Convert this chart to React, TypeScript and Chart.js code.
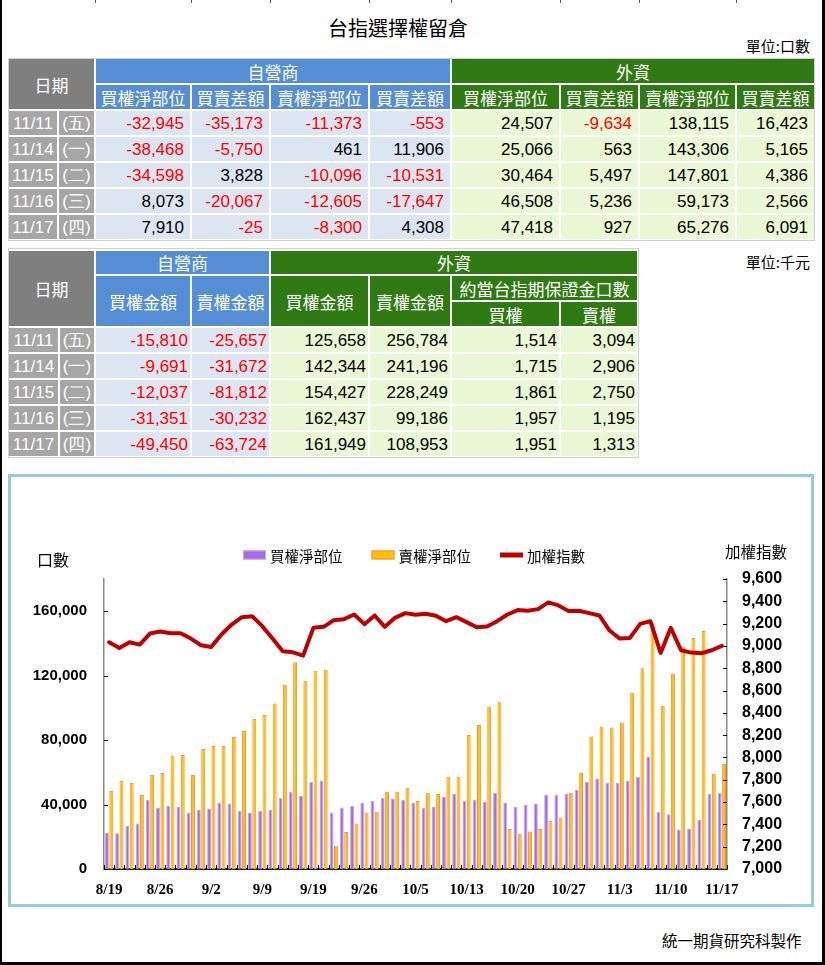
import React, { useEffect, useRef } from 'react';
import { Chart, registerables } from 'chart.js';
Chart.register(...registerables);

// ---------- chart data ----------
const chartDates = [
  '8/19', '8/22', '8/23', '8/24', '8/25', '8/26', '8/29', '8/30', '8/31', '9/1',
  '9/2', '9/5', '9/6', '9/7', '9/8', '9/9', '9/10', '9/12', '9/13', '9/14',
  '9/19', '9/20', '9/21', '9/22', '9/23', '9/26', '9/29', '9/30', '10/3', '10/4',
  '10/5', '10/6', '10/7', '10/11', '10/12', '10/13', '10/14', '10/17', '10/18', '10/19',
  '10/20', '10/21', '10/24', '10/25', '10/26', '10/27', '10/28', '10/31', '11/1', '11/2',
  '11/3', '11/4', '11/7', '11/8', '11/9', '11/10', '11/11', '11/14', '11/15', '11/16',
  '11/17',
];
const callNet = [
  22600, 22200, 26900, 28200, 42900, 38100, 39300, 38500, 35000, 36900,
  37500, 41200, 40600, 36200, 35000, 36200, 36900, 44300, 48000, 45500,
  54200, 54900, 35000, 38100, 39300, 41200, 42400, 44300, 43700, 43100,
  41200, 38100, 38700, 44900, 46800, 42400, 43100, 41800, 47400, 41200,
  38700, 40000, 40600, 46200, 46200, 46800, 49300, 54200, 56100, 53600,
  53600, 54900, 57300, 69800, 35600, 34000, 24507, 25066, 30464, 46508,
  47418,
];
const putNet = [
  48400, 54700, 53400, 46000, 58400, 59600, 70400, 70800, 58400, 74500,
  76400, 76400, 82000, 85700, 93200, 95600, 102700, 114300, 128400, 116800,
  123000, 123600, 14500, 23000, 28200, 35000, 35600, 48000, 48000, 50500,
  42200, 47400, 46600, 57300, 57300, 83200, 89400, 100800, 103900, 24800,
  21900, 23200, 24800, 30000, 31900, 47400, 59800, 82200, 88400, 87800,
  90900, 109500, 124600, 152600, 101400, 121300, 138115, 143306, 147801, 59173,
  65276,
];
const taiex = [
  9033, 8982, 9033, 9012, 9111, 9129, 9114, 9114, 9066, 9006,
  8991, 9102, 9192, 9258, 9267, 9177, 9066, 8952, 8943, 8913,
  9162, 9171, 9231, 9240, 9282, 9195, 9273, 9171, 9252, 9294,
  9279, 9288, 9270, 9222, 9258, 9213, 9168, 9174, 9222, 9282,
  9321, 9315, 9330, 9390, 9363, 9312, 9315, 9294, 9273, 9138,
  9066, 9072, 9198, 9222, 8937, 9162, 8961, 8940, 8934, 8961,
  9000,
];
const seriesNames = ['買權淨部位', '賣權淨部位', '加權指數'];
const leftTickValues = [0, 40000, 80000, 120000, 160000];

// ---------- table data ----------
const tableDates = ['11/11', '11/14', '11/15', '11/16', '11/17'];
const weekdays = ['(五)', '(一)', '(二)', '(三)', '(四)'];
const dealerCallNet = [-32945, -38468, -34598, 8073, 7910];
const dealerCallDiff = [-35173, -5750, 3828, -20067, -25];
const dealerPutNet = [-11373, 461, -10096, -12605, -8300];
const dealerPutDiff = [-553, 11906, -10531, -17647, 4308];
const foreignCallNet = [24507, 25066, 30464, 46508, 47418];
const foreignCallDiff = [-9634, 563, 5497, 5236, 927];
const foreignPutNet = [138115, 143306, 147801, 59173, 65276];
const foreignPutDiff = [16423, 5165, 4386, 2566, 6091];
const t1Heads = ['買權淨部位', '買賣差額', '賣權淨部位', '買賣差額', '買權淨部位', '買賣差額', '賣權淨部位', '買賣差額'];

const dealerCallAmt = [-15810, -9691, -12037, -31351, -49450];
const dealerPutAmt = [-25657, -31672, -81812, -30232, -63724];
const foreignCallAmt = [125658, 142344, 154427, 162437, 161949];
const foreignPutAmt = [256784, 241196, 228249, 99186, 108953];
const equivCall = [1514, 1715, 1861, 1957, 1951];
const equivPut = [3094, 2906, 2750, 1195, 1313];

// ---------- styles ----------
const CJK = '"Noto Sans CJK TC", "Noto Sans CJK SC", sans-serif';
const NUM = '"Liberation Sans Narrow", "Liberation Sans", Arial, sans-serif';
const GRAY_H = '#7f7f7f';
const GRAY_D = '#a6a6a6';
const BLUE_H = '#558ed5';
const BLUE_D = '#dce6f2';
const GREEN_H = '#2f7a12';
const GREEN_D = '#ebf8d5';
const PURPLE = '#a66be3';
const PURPLE_B = '#c7a4ef';
const ORANGE = '#ffc000';
const ORANGE_B = '#f5953a';
const RED = '#c00000';

const fmt = (n: number) => n.toLocaleString('en-US');

function Cell(p: {
  x0: number; x1: number; y0: number; y1: number; bg: string; text: React.ReactNode;
  color?: string; right?: boolean; font?: string; size?: number; padR?: number;
}) {
  const { x0, x1, y0, y1, bg, text, color = '#fff', right = false, font = CJK, size = 17, padR = 6 } = p;
  return (
    <div
      style={{
        position: 'absolute', left: x0 + 1, top: y0 + 1, width: x1 - x0 - 2, height: y1 - y0 - 2,
        background: bg, color, fontFamily: font, fontSize: size, display: 'flex', alignItems: 'center',
        justifyContent: right ? 'flex-end' : 'center', paddingRight: right ? padR : 0,
        boxSizing: 'border-box', whiteSpace: 'nowrap', lineHeight: 1,
      }}
    >
      {text}
    </div>
  );
}

function NumCell(p: { x0: number; x1: number; y0: number; y1: number; bg: string; v: number; padR: number }) {
  return (
    <Cell x0={p.x0} x1={p.x1} y0={p.y0} y1={p.y1} bg={p.bg} text={fmt(p.v)}
      color={p.v < 0 ? '#ff0000' : '#000'} right font={NUM} size={17} padR={p.padR} />
  );
}

function Table1() {
  const X = [8, 58, 95, 191, 270, 369, 451, 560, 639, 736, 815];
  const Y = [58, 84, 110, 136, 162, 188, 214, 240];
  const cols = [dealerCallNet, dealerCallDiff, dealerPutNet, dealerPutDiff, foreignCallNet, foreignCallDiff, foreignPutNet, foreignPutDiff];
  const cells: React.ReactNode[] = [];
  cells.push(<Cell key="d" x0={X[0]} x1={X[2]} y0={Y[0]} y1={Y[2]} bg={GRAY_H} text="日期" />);
  cells.push(<Cell key="z" x0={X[2]} x1={X[6]} y0={Y[0]} y1={Y[1]} bg={BLUE_H} text="自營商" />);
  cells.push(<Cell key="w" x0={X[6]} x1={X[10]} y0={Y[0]} y1={Y[1]} bg={GREEN_H} text="外資" />);
  t1Heads.forEach((h, i) => {
    cells.push(<Cell key={'h' + i} x0={X[i + 2]} x1={X[i + 3]} y0={Y[1]} y1={Y[2]} bg={i < 4 ? BLUE_H : GREEN_H} text={h} />);
  });
  tableDates.forEach((d, r) => {
    const y0 = Y[r + 2], y1 = Y[r + 3];
    cells.push(<Cell key={'dt' + r} x0={X[0]} x1={X[1]} y0={y0} y1={y1} bg={GRAY_D} text={d} font={NUM} />);
    cells.push(<Cell key={'wd' + r} x0={X[1]} x1={X[2]} y0={y0} y1={y1} bg={GRAY_D} text={weekdays[r]} font={NUM} />);
    cols.forEach((c, i) => {
      cells.push(<NumCell key={'v' + r + '_' + i} x0={X[i + 2]} x1={X[i + 3]} y0={y0} y1={y1} bg={i < 4 ? BLUE_D : GREEN_D} v={c[r]} padR={6} />);
    });
  });
  return (
    <>
      <div style={{ position: 'absolute', left: 8, top: 58, width: 807, height: 183, border: '1px solid #d0d0d0', boxSizing: 'border-box' }} />
      {cells}
    </>
  );
}

function Table2() {
  const X = [8, 59, 95, 191, 270, 369, 451, 560, 638];
  const Y = [250, 275, 301, 327, 353, 379, 405, 431, 457];
  const cols = [dealerCallAmt, dealerPutAmt, foreignCallAmt, foreignPutAmt, equivCall, equivPut];
  const cells: React.ReactNode[] = [];
  cells.push(<Cell key="d" x0={X[0]} x1={X[2]} y0={Y[0]} y1={Y[3]} bg={GRAY_H} text="日期" />);
  cells.push(<Cell key="z" x0={X[2]} x1={X[4]} y0={Y[0]} y1={Y[1]} bg={BLUE_H} text="自營商" />);
  cells.push(<Cell key="w" x0={X[4]} x1={X[8]} y0={Y[0]} y1={Y[1]} bg={GREEN_H} text="外資" />);
  cells.push(<Cell key="a1" x0={X[2]} x1={X[3]} y0={Y[1]} y1={Y[3]} bg={BLUE_H} text="買權金額" />);
  cells.push(<Cell key="a2" x0={X[3]} x1={X[4]} y0={Y[1]} y1={Y[3]} bg={BLUE_H} text="賣權金額" />);
  cells.push(<Cell key="a3" x0={X[4]} x1={X[5]} y0={Y[1]} y1={Y[3]} bg={GREEN_H} text="買權金額" />);
  cells.push(<Cell key="a4" x0={X[5]} x1={X[6]} y0={Y[1]} y1={Y[3]} bg={GREEN_H} text="賣權金額" />);
  cells.push(<Cell key="a5" x0={X[6]} x1={X[8]} y0={Y[1]} y1={Y[2]} bg={GREEN_H} text="約當台指期保證金口數" />);
  cells.push(<Cell key="a6" x0={X[6]} x1={X[7]} y0={Y[2]} y1={Y[3]} bg={GREEN_H} text="買權" />);
  cells.push(<Cell key="a7" x0={X[7]} x1={X[8]} y0={Y[2]} y1={Y[3]} bg={GREEN_H} text="賣權" />);
  tableDates.forEach((d, r) => {
    const y0 = Y[r + 3], y1 = Y[r + 4];
    cells.push(<Cell key={'dt' + r} x0={X[0]} x1={X[1]} y0={y0} y1={y1} bg={GRAY_D} text={d} font={NUM} />);
    cells.push(<Cell key={'wd' + r} x0={X[1]} x1={X[2]} y0={y0} y1={y1} bg={GRAY_D} text={weekdays[r]} font={NUM} />);
    cols.forEach((c, i) => {
      cells.push(<NumCell key={'v' + r + '_' + i} x0={X[i + 2]} x1={X[i + 3]} y0={y0} y1={y1} bg={i < 2 ? BLUE_D : GREEN_D} v={c[r]} padR={2} />);
    });
  });
  return (
    <>
      <div style={{ position: 'absolute', left: 8, top: 248, width: 631, height: 210, border: '1px solid #d0d0d0', boxSizing: 'border-box' }} />
      {cells}
    </>
  );
}

const decorPlugin = {
  id: 'decor',
  afterDraw(chart: any) {
    const { ctx, chartArea } = chart;
    const { left, right, bottom } = chartArea;
    ctx.save();
    // inward tick marks
    ctx.strokeStyle = '#000';
    ctx.lineWidth = 1;
    const yl = chart.scales.y;
    yl.ticks.forEach((t: any) => {
      const y = Math.round(yl.getPixelForValue(t.value)) + 0.5;
      ctx.beginPath(); ctx.moveTo(left, y); ctx.lineTo(left + 4, y); ctx.stroke();
    });
    const yr = chart.scales.y1;
    yr.ticks.forEach((t: any) => {
      const y = Math.round(yr.getPixelForValue(t.value)) + 0.5;
      ctx.beginPath(); ctx.moveTo(right - 4, y); ctx.lineTo(right, y); ctx.stroke();
    });
    const n = chart.data.labels.length;
    for (let i = 0; i <= n; i++) {
      const x = Math.round(left + (i * (right - left)) / n) + 0.5;
      ctx.beginPath(); ctx.moveTo(x, bottom); ctx.lineTo(x, bottom - 4); ctx.stroke();
    }
    // legend
    const ds = chart.data.datasets;
    const items = [ds[0], ds[1], ds[2]];
    ctx.font = '14.5px ' + CJK;
    ctx.textBaseline = 'middle';
    const boxW = 23, gapT = 4, gapI = 29;
    const widths = items.map((d: any) => boxW + gapT + ctx.measureText(d.label).width);
    const total = widths.reduce((a: number, b: number) => a + b, 0) + gapI * (items.length - 1);
    let x = 402 - total / 2;
    const cy = 75;
    items.forEach((d: any, i: number) => {
      if (d.type === 'line') {
        ctx.strokeStyle = d.borderColor; ctx.lineWidth = 5;
        ctx.beginPath(); ctx.moveTo(x, cy); ctx.lineTo(x + boxW, cy); ctx.stroke();
      } else {
        ctx.fillStyle = d.backgroundColor;
        ctx.fillRect(x, cy - 4.5, boxW, 9);
        ctx.strokeStyle = d.borderColor; ctx.lineWidth = 1;
        ctx.strokeRect(x + 0.5, cy - 4, boxW - 1, 8);
      }
      ctx.fillStyle = '#000';
      ctx.fillText(d.label, x + boxW + gapT, cy + 1);
      x += widths[i] + gapI;
    });
    ctx.restore();
  },
};

function ChartBox() {
  const ref = useRef<HTMLCanvasElement>(null);
  useEffect(() => {
    if (!ref.current) return;
    const chart = new Chart(ref.current, {
      type: 'bar',
      data: {
        labels: chartDates,
        datasets: [
          {
            type: 'bar', label: seriesNames[0], data: callNet, yAxisID: 'y', order: 1,
            backgroundColor: PURPLE, borderColor: PURPLE_B, borderWidth: 1,
            categoryPercentage: 0.85, barPercentage: 0.9,
          },
          {
            type: 'bar', label: seriesNames[1], data: putNet, yAxisID: 'y', order: 1,
            backgroundColor: ORANGE, borderColor: ORANGE_B, borderWidth: 1,
            categoryPercentage: 0.85, barPercentage: 0.9,
          },
          {
            type: 'line', label: seriesNames[2], data: taiex, yAxisID: 'y1', order: 0,
            borderColor: RED, backgroundColor: RED, borderWidth: 4, pointRadius: 0, tension: 0,
            borderJoinStyle: 'round', borderCapStyle: 'round',
          },
        ] as any,
      },
      options: {
        responsive: false,
        animation: false,
        events: [],
        layout: { padding: { top: 99, left: 0, right: 0, bottom: 0 } },
        plugins: { legend: { display: false }, tooltip: { enabled: false } },
        scales: {
          x: {
            type: 'category',
            offset: true,
            grid: { display: false, drawTicks: false },
            border: { display: true, color: '#222', width: 2 },
            ticks: {
              autoSkip: false, maxRotation: 0, minRotation: 0, padding: 12, color: '#000',
              font: { family: '"Liberation Serif", "Times New Roman", serif', weight: 'bold', size: 15 },
              callback: (_v: any, i: number) => (i % 5 === 0 ? chartDates[i] : ''),
            },
            afterFit: (s: any) => { s.height = 33; },
          },
          y: {
            type: 'linear', position: 'left', min: 0, max: 180000,
            grid: { display: false, drawTicks: false },
            border: { display: true, color: '#8a8a8a', width: 1.5 },
            ticks: {
              padding: 17, color: '#000',
              font: { family: '"Liberation Sans", Arial, sans-serif', weight: 'bold', size: 15 },
              callback: (v: any) => fmt(Number(v)),
            },
            afterBuildTicks: (s: any) => { s.ticks = leftTickValues.map((v) => ({ value: v })); },
            afterFit: (s: any) => { s.width = 92; },
          },
          y1: {
            type: 'linear', position: 'right', min: 7000, max: 9600,
            grid: { display: false, drawTicks: false },
            border: { display: true, color: '#8a8a8a', width: 1.5 },
            ticks: {
              stepSize: 200, padding: 15, color: '#000',
              font: { family: '"Liberation Sans", Arial, sans-serif', weight: 'bold', size: 16 },
              callback: (v: any) => fmt(Number(v)),
            },
            afterFit: (s: any) => { s.width = 83; },
          },
        },
      } as any,
      plugins: [decorPlugin],
    });
    return () => chart.destroy();
  }, []);
  return (
    <>
      <div style={{ position: 'absolute', left: 8, top: 474, width: 806, height: 433, border: '3px solid #93cddd', boxSizing: 'border-box' }} />
      <canvas ref={ref} width={798} height={422} style={{ position: 'absolute', left: 12, top: 480, width: 798, height: 422 }} />
      <div style={{ position: 'absolute', left: 37, top: 551, fontFamily: CJK, fontSize: 16, lineHeight: 1 }}>口數</div>
      <div style={{ position: 'absolute', left: 725, top: 544, fontFamily: CJK, fontSize: 15.5, lineHeight: 1 }}>加權指數</div>
    </>
  );
}

export default function App() {
  const topTicks = [95, 191, 270, 369, 451, 560, 639, 736];
  return (
    <div style={{ position: 'relative', width: 825, height: 965, background: '#fff', overflow: 'hidden' }}>
      <style>{'body{margin:0;}'}</style>
      <div style={{ position: 'absolute', left: 0, top: 0, width: 825, height: 965, borderLeft: '2px solid #000', borderRight: '3px solid #000', borderBottom: '3px solid #000', boxSizing: 'border-box' }} />
      {topTicks.map((x) => (
        <div key={x} style={{ position: 'absolute', left: x, top: 0, width: 1, height: 3, background: '#555' }} />
      ))}
      <div style={{ position: 'absolute', left: 0, top: 18, width: 796, textAlign: 'center', fontFamily: CJK, fontSize: 20, lineHeight: 1 }}>台指選擇權留倉</div>
      <div style={{ position: 'absolute', left: 690, top: 38, width: 120, textAlign: 'right', fontFamily: CJK, fontSize: 15, lineHeight: 1 }}>單位:口數</div>
      <Table1 />
      <div style={{ position: 'absolute', left: 690, top: 254, width: 120, textAlign: 'right', fontFamily: CJK, fontSize: 15, lineHeight: 1 }}>單位:千元</div>
      <Table2 />
      <ChartBox />
      <div style={{ position: 'absolute', left: 662, top: 933, fontFamily: CJK, fontSize: 15.5, lineHeight: 1 }}>統一期貨研究科製作</div>
    </div>
  );
}
